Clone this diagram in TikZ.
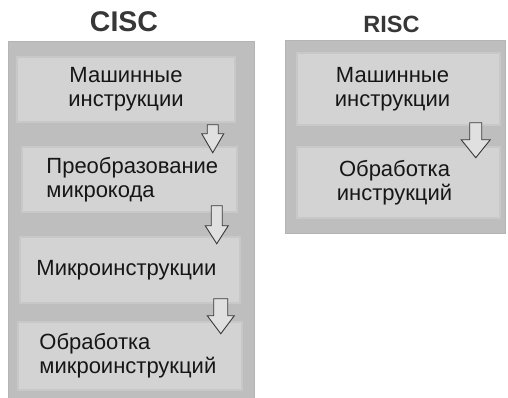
\documentclass[tikz,border=0pt]{standalone}
\usepackage{fontspec}
\setmainfont{Liberation Sans}
\usetikzlibrary{calc}
\definecolor{panelgray}{RGB}{190,190,190}
\definecolor{panelrim}{RGB}{180,180,180}
\definecolor{stagegray}{RGB}{211,211,211}
\definecolor{stagerim}{RGB}{200,200,200}
\definecolor{inkdark}{RGB}{22,22,22}
\definecolor{titleink}{RGB}{55,55,55}
\tikzset{
  panel/.style={rectangle, fill=panelgray, draw=panelrim, line width=1pt, inner sep=0pt},
  stage/.style={rectangle, fill=stagegray, draw=stagerim, line width=1.5pt, inner sep=0pt},
  stagetext/.style={text=inkdark, font=\fontsize{22}{24}\selectfont, inner sep=0pt},
  title/.style={text=titleink, font=\bfseries, inner sep=0pt, anchor=base},
  arrowline/.style={draw=inkdark!85, fill=stagegray!70!white, line width=0.9pt, line join=miter},
  pics/downarrow/.style args={#1:#2:#3:#4}{code={%
    % #1 shaft half-width, #2 head half-width, #3 shaft length, #4 total length
    \path[arrowline] (-#1,0) -- (#1,0) -- (#1,#3) -- (#2,#3) -- (0,#4)
      -- (-#2,#3) -- (-#1,#3) -- cycle;}}
}
\begin{document}
\begin{tikzpicture}[x=1pt, y=-1pt]
\useasboundingbox (0,0) rectangle (508,398);

% column titles
\node[title, font=\bfseries\fontsize{28.5}{30}\selectfont] (ctitle) at (124,32) {CISC};
\node[title, font=\bfseries\fontsize{23.5}{26}\selectfont] (rtitle) at (391.5,33) {RISC};

% column panels
\node[panel, minimum width=246pt, minimum height=358pt, anchor=north west] (cisc) at (8,41) {};
\node[panel, minimum width=220pt, minimum height=193pt, anchor=north west] (risc) at (285,40) {};

% CISC stages
\node[stage, minimum width=218pt, minimum height=65pt] (m1) at (126,89.5) {};
\node[stage, minimum width=215pt, minimum height=65pt] (m2) at (129.5,179.5) {};
\node[stage, minimum width=220pt, minimum height=66pt] (m3) at (130,270) {};
\node[stage, minimum width=224pt, minimum height=68pt] (m4) at (130,356) {};

\node[stagetext, align=center] (t1) at (m1.center) {Машинные\\инструкции};
\node[stagetext, align=left, anchor=west] (t2) at ([xshift=25pt]m2.west) {Преобразование\\микрокода};
\node[stagetext, align=left, anchor=west] (t3) at ([xshift=17pt]m3.west) {Микроинструкции};
\node[stagetext, align=left, anchor=west] (t4) at ([xshift=22pt]m4.west) {Обработка\\микроинструкций};

% RISC stages
\node[stage, minimum width=203pt, minimum height=72pt] (r1) at (398.5,89) {};
\node[stage, minimum width=203pt, minimum height=71pt] (r2) at (398.5,182.5) {};

\node[stagetext, align=center] (u1) at ([xshift=-6pt]r1.center) {Машинные\\инструкции};
\node[stagetext, align=center] (u2) at ([xshift=-4pt]r2.center) {Обработка\\инструкций};

% flow arrows between stages
\pic at ($(m1.south east)+(-23,2)$) {downarrow=5.5:11:9:28};
\pic at ($(m2.south east)+(-21,-7)$) {downarrow=5.5:11.5:20:38};
\pic at ($(m3.south east)+(-20,-5)$) {downarrow=7:13.5:17:35};
\pic at ($(r1.south east)+(-25,-3)$) {downarrow=6:14.5:17:35};
\end{tikzpicture}
\end{document}
